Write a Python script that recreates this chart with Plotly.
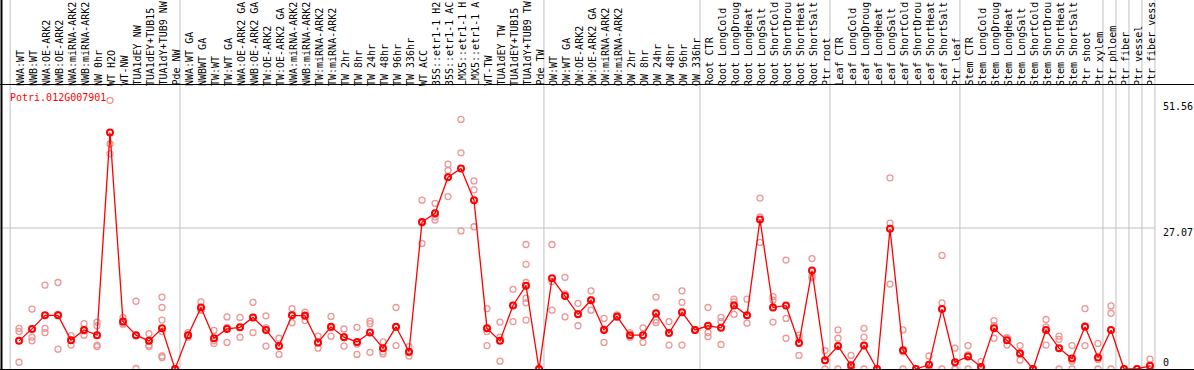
import plotly.graph_objects as go

# ---------------- data ----------------
gene_name = "Potri.012G007901"

sample_labels = [
    "NWA:WT", "NWB:WT", "NWA:OE-ARK2", "NWB:OE-ARK2", "NWA:miRNA-ARK2", "NWB:miRNA-ARK2",
    "NW 0hr", "WT H2O", "WT-NW", "TUA1dEY NW", "TUA1dEY+TUB15 NW", "TUA1dY+TUB9 NW", "Pde NW",
    "NWA:WT GA", "NWBWT GA", "TW:WT", "TW:WT GA", "NWA:OE-ARK2 GA", "NWB:OE-ARK2 GA",
    "TW:OE-ARK2", "TW:OE-ARK2 GA", "NWA:miRNA-ARK2", "NWB:miRNA-ARK2", "TW:miRNA-ARK2",
    "TW:miRNA-ARK2", "TW 2hr", "TW 8hr", "TW 24hr", "TW 48hr", "TW 96hr", "TW 336hr",
    "WT ACC", "35S::etr1-1 H2O", "35S::etr1-1 ACC", "LMX5::etr1-1 H2O", "LMX5::etr1-1 ACC",
    "WT-TW", "TUA1dEY TW", "TUA1dEY+TUB15 TW", "TUA1dY+TUB9 TW", "Pde TW",
    "OW:WT", "OW:WT GA", "OW:OE-ARK2", "OW:OE-ARK2 GA", "OW:miRNA-ARK2", "OW:miRNA-ARK2",
    "OW 2hr", "OW 8hr", "OW 24hr", "OW 48hr", "OW 96hr", "OW 336hr",
    "Root CTR", "Root LongCold", "Root LongDrought", "Root LongHeat", "Root LongSalt",
    "Root ShortCold", "Root ShortDrought", "Root ShortHeat", "Root ShortSalt", "Ptr root",
    "Leaf CTR", "Leaf LongCold", "Leaf LongDrought", "Leaf LongHeat", "Leaf LongSalt",
    "Leaf ShortCold", "Leaf ShortDrought", "Leaf ShortHeat", "Leaf ShortSalt", "Ptr leaf",
    "Stem CTR", "Stem LongCold", "Stem LongDrought", "Stem LongHeat", "Stem LongSalt",
    "Stem ShortCold", "Stem ShortDrought", "Stem ShortHeat", "Stem ShortSalt",
    "Ptr shoot", "Ptr xylem",
    "Ptr phloem", "Ptr fiber", "Ptr vessel", "Ptr fiber vessel",
]

mean_values = [
    5.4, 7.7, 10.3, 10.3, 5.5, 7.5, 6.5, 45.4, 9.1, 6.5, 5.4, 7.8, 0.0,
    6.5, 11.8, 5.9, 7.7, 8.0, 9.9, 7.5, 4.4, 10.3, 10.2, 5.1, 8.1, 6.1, 5.2, 7.0,
    4.0, 8.1, 3.3, 28.2, 29.9, 36.8, 38.5, 32.4, 7.8, 5.4, 12.2, 16.0, 0.0,
    17.4, 14.0, 10.5, 13.2, 7.5, 10.1, 6.5, 6.5, 10.7, 6.9, 10.9, 7.5,
    8.3, 7.9, 12.2, 10.3, 28.7, 11.8, 12.2, 5.0, 18.9, 1.7,
    4.4, 0.7, 4.5, 0.0, 26.9, 3.6, 0.0, 0.8, 11.5, 1.3,
    2.4, 0.4, 7.8, 5.5, 3.0, 0.0, 7.5, 4.0, 2.0, 8.1, 2.2,
    7.5, 0.0, 0.0, 0.6,
]

replicate_values = [
    [7.8, 7.2, 1.3], [11.5, 6.1, 5.4], [16.1, 7.8, 7.0], [16.6, 10.5, 3.8],
    [6.4, 5.5, 4.6], [8.7, 7.3, 6.5], [9.0, 8.3, 4.6, 4.3], [51.56, 43.2, 41.3],
    [9.9, 8.8, 8.6], [13.0, 6.4, 0.1], [6.8, 4.6, 4.3],
    [13.8, 11.8, 9.4, 7.2, 2.5, 2.2], [0.0, 0.0, 0.0],
    [7.0, 6.5, 6.1], [12.9, 11.3, 11.3], [7.4, 5.4, 4.9], [10.0, 8.0, 5.1],
    [9.9, 8.0, 6.1], [12.8, 9.9, 7.0], [10.2, 7.9, 4.4], [5.9, 4.5, 2.8],
    [11.6, 10.4, 8.9], [10.9, 10.4, 9.3], [6.3, 5.0, 4.0], [10.1, 7.9, 6.3],
    [7.7, 6.2, 4.4], [8.0, 4.8, 2.8], [9.2, 8.7, 3.2], [5.2, 3.3, 2.9],
    [11.8, 8.0, 4.5], [4.3, 3.1, 2.5], [32.4, 28.0, 24.1], [31.8, 29.2, 28.6],
    [39.3, 38.1, 33.1], [47.9, 41.5, 26.5], [36.1, 34.4, 27.3], [11.6, 7.2, 4.5],
    [9.0, 6.1, 1.5], [15.3, 12.2, 9.1], [23.9, 20.1, 16.6, 13.6, 12.7, 9.4],
    [0.0, 0.0, 0.0],
    [23.9, 16.8, 11.3], [17.6, 14.4, 10.0], [12.6, 10.6, 8.3], [15.0, 13.3, 11.3],
    [9.7, 7.7, 5.1], [10.4, 10.0, 9.9], [7.0, 6.4, 6.1], [7.9, 6.5, 5.1],
    [13.8, 9.4, 8.9], [9.1, 7.0, 4.6], [15.0, 12.8, 4.6], [7.6, 7.5, 7.4],
    [11.8, 7.0, 6.2], [9.9, 9.1, 4.7], [13.4, 12.9, 10.5], [13.4, 10.3, 8.8],
    [32.8, 29.2, 24.3], [13.9, 13.2, 9.0], [20.9, 9.7, 5.9], [6.5, 5.9, 2.6],
    [21.2, 17.8, 17.5], [3.5, 1.6, 0.0],
    [7.5, 5.9, 0.0], [2.6, 0.0, 0.0], [7.8, 6.1, 0.0], [0.0, 0.0, 0.0],
    [36.7, 28.0, 16.3], [7.5, 3.3, 0.0], [0.0, 0.0, 0.0], [2.5, 0.0, 0.0],
    [21.8, 12.7, 0.0], [4.0, 0.0, 0.0],
    [4.5, 2.7, 0.0], [1.4, 0.0, 0.0], [9.3, 8.3, 5.9], [6.0, 5.9, 4.6],
    [4.5, 2.8, 1.7], [0.0, 0.0, 0.0], [9.5, 8.1, 4.6], [6.3, 5.7, 0.0],
    [4.5, 1.5, 0.0], [11.6, 8.3, 4.5], [4.9, 1.8, 0.0],
    [12.1, 10.7, 0.0], [0.0, 0.0, 0.0], [0.0, 0.0, 0.0], [1.9, 0.0, 0.0],
]

# index of the first sample in each group (separators are drawn before these)
group_starts = [0, 13, 41, 53, 63, 73, 84, 85, 86, 87, 88]

y_tick_values = [51.56, 27.07, 0]
y_tick_labels = ["51.56", "27.07", "0"]

# the header area only has room for this many characters (as in the reference)
label_chars = 14

# ---------------- figure ----------------
positions = list(range(len(sample_labels)))

rep_x, rep_y = [], []
for i, reps in enumerate(replicate_values):
    for v in reps:
        rep_x.append(i)
        rep_y.append(v)

FONT = "DejaVu Sans Mono"
RED = "#ff0000"
PINK = "#ec9696"
GRAY = "#c0c0c0"

fig = go.Figure()

fig.add_trace(go.Scatter(
    x=rep_x, y=rep_y, mode="markers",
    marker=dict(symbol="circle-open", size=6, color=PINK, line=dict(width=1.3, color=PINK)),
    hoverinfo="skip", showlegend=False,
))

fig.add_trace(go.Scatter(
    x=positions, y=mean_values, mode="lines+markers",
    line=dict(color=RED, width=1.3),
    marker=dict(symbol="circle-open", size=6, color=RED, line=dict(width=2, color=RED)),
    showlegend=False,
))

W, H = 1194, 370
col_px = 13.0
first_px = 19.0
x_min = -first_px / col_px
x_max = x_min + W / col_px

top_margin = 85
bottom_margin = 1
plot_h = H - top_margin - bottom_margin
px_per_unit = 5.21
y_max = plot_h / px_per_unit

shapes = []
# group separators (full height, gray)
for g in group_starts:
    xs = g - 0.5 - 0.12
    if g == 0:
        xs = -0.68
    shapes.append(dict(type="line", xref="x", yref="paper", x0=xs, x1=xs, y0=0, y1=1.31,
                       line=dict(color=GRAY, width=1), layer="below"))
# horizontal guide at middle tick
shapes.append(dict(type="line", xref="x", yref="y", x0=x_min, x1=len(sample_labels) - 0.5 - 0.12,
                   y0=y_tick_values[1], y1=y_tick_values[1],
                   line=dict(color=GRAY, width=1), layer="below"))
# left black border, full height
shapes.append(dict(type="line", xref="paper", yref="paper", x0=1.5 / W, x1=1.5 / W, y0=0, y1=1.31,
                   line=dict(color="black", width=2)))

annotations = []
for i, lab in enumerate(sample_labels):
    annotations.append(dict(
        x=i, y=1, xref="x", yref="paper", text=lab[:label_chars], showarrow=False,
        textangle=-90, xanchor="center", yanchor="bottom", yshift=-1, xshift=1,
        borderpad=0, borderwidth=0,
        font=dict(family=FONT, size=10, color="black"),
    ))

annotations.append(dict(
    x=8 / W, y=(H - bottom_margin - 97) / plot_h, xref="paper", yref="paper",
    text=gene_name, showarrow=False,
    xanchor="left", yanchor="middle", font=dict(family=FONT, size=10, color=RED),
))

tick_shifts = [-6.6, -4.5, 7]
for v, t, s in zip(y_tick_values, y_tick_labels, tick_shifts):
    annotations.append(dict(
        x=1161 / W, y=v, xref="paper", yref="y", text=t, showarrow=False,
        xanchor="left", yanchor="middle", yshift=s,
        font=dict(family=FONT, size=10, color="black"),
    ))

fig.update_layout(
    width=W, height=H,
    margin=dict(l=0, r=0, t=top_margin, b=bottom_margin, pad=0),
    paper_bgcolor="white", plot_bgcolor="white",
    xaxis=dict(range=[x_min, x_max], showgrid=False, zeroline=False, showticklabels=False,
               ticks="", showline=True, mirror=True, linecolor="black", linewidth=1),
    yaxis=dict(range=[0, y_max], showgrid=False, zeroline=False, showticklabels=False,
               ticks="", showline=False),
    shapes=shapes, annotations=annotations,
)

fig.write_html(
    "out.html",
    config={"displayModeBar": False},
    post_script="document.body.style.margin='0px';document.body.style.overflow='hidden';",
)
